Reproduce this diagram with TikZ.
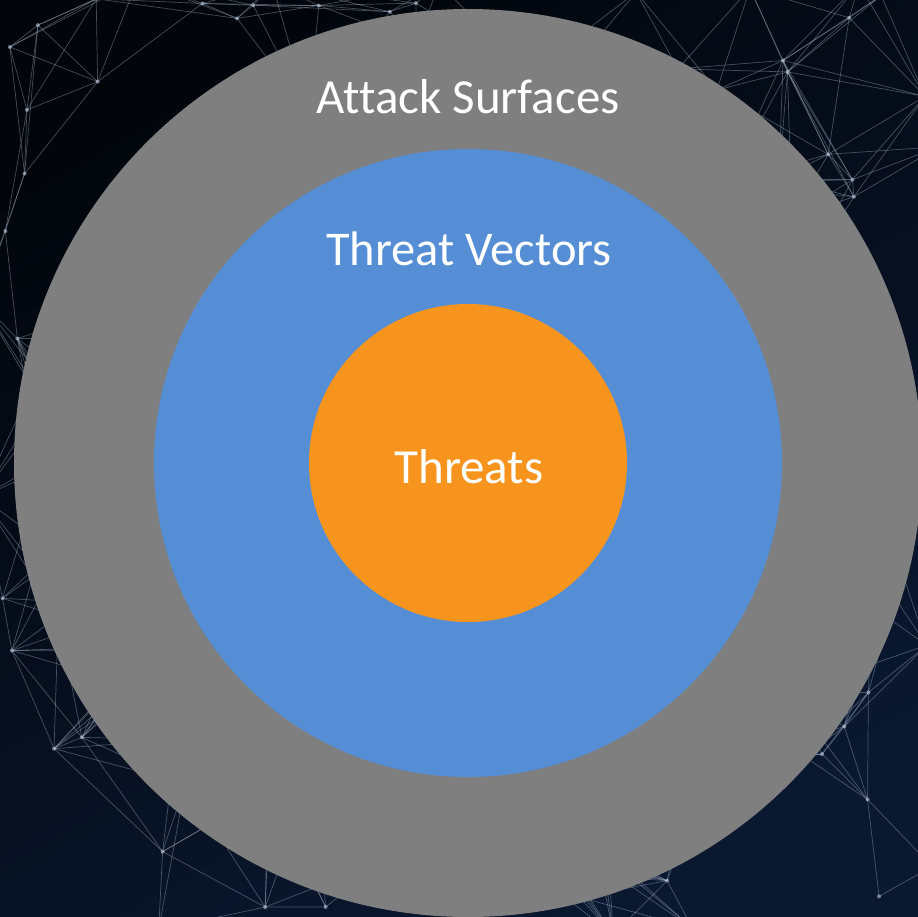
\documentclass[tikz,border=0pt]{standalone}
\usepackage{fontspec}
\setmainfont{Carlito}[Ligatures=NoCommon]
\definecolor{bgtop}{HTML}{02060C}
\definecolor{bgbot}{HTML}{0A1830}
\definecolor{ringgray}{HTML}{7F7F7F}
\definecolor{ringblue}{HTML}{558ED5}
\definecolor{ringorange}{HTML}{F7941E}
\definecolor{netcol}{HTML}{B8C8DC}
\tikzset{
  net/.style={draw=netcol, line width=0.7pt, opacity=0.36},
  netdot/.style={fill=netcol, opacity=0.6},
  ring/.style={circle, inner sep=0pt, outer sep=0pt, draw=none},
  lbl/.style={text=white, anchor=base, inner sep=0pt},
}
\def\PX#1{\csname px#1\endcsname}
\def\PY#1{\csname py#1\endcsname}
\begin{document}
\begin{tikzpicture}[x=1pt,y=-1pt]
\useasboundingbox (0,0) rectangle (918,916);
\begin{scope}
\clip (0,0) rectangle (918,916);
\shade[top color=bgtop, bottom color=bgbot, shading angle=30] (0,0) rectangle (918,916);
\pgfmathsetseed{4242}
\foreach \i in {1,...,150}{
  \pgfmathsetmacro\xx{rnd*960-20}
  \pgfmathsetmacro\yy{rnd*960-20}
  \expandafter\xdef\csname px\i\endcsname{\xx}
  \expandafter\xdef\csname py\i\endcsname{\yy}
  \coordinate (p\i) at (\xx,\yy);
}
\foreach \i in {1,...,149}{
  \pgfmathtruncatemacro\jstart{\i+1}
  \foreach \j in {\jstart,...,150}{
    \pgfmathsetmacro\dd{veclen((\PX{\i}-\PX{\j})/100,(\PY{\i}-\PY{\j})/100)}
    \ifdim\dd pt<1.5pt \draw[net] (p\i) -- (p\j); \fi
  }
}
\foreach \i in {1,...,150}{
  \fill[netdot] (p\i) circle[radius=2pt];
}
\end{scope}
\node[ring, fill=ringgray, minimum size=908pt] (outer) at (468,463) {};
\node[ring, fill=ringblue, minimum size=628pt] (middle) at (468,463) {};
\node[ring, fill=ringorange, minimum size=318pt] (inner) at (468,463) {};
\node[lbl, font=\fontsize{49}{54}\selectfont] (surf) at (468,113) {Attack Surfaces};
\node[lbl, font=\fontsize{48.5}{54}\selectfont] (vect) at (469,265) {Threat Vectors};
\node[lbl, font=\fontsize{49}{55}\selectfont] (thr) at (469,483) {Threats};
\end{tikzpicture}
\end{document}
